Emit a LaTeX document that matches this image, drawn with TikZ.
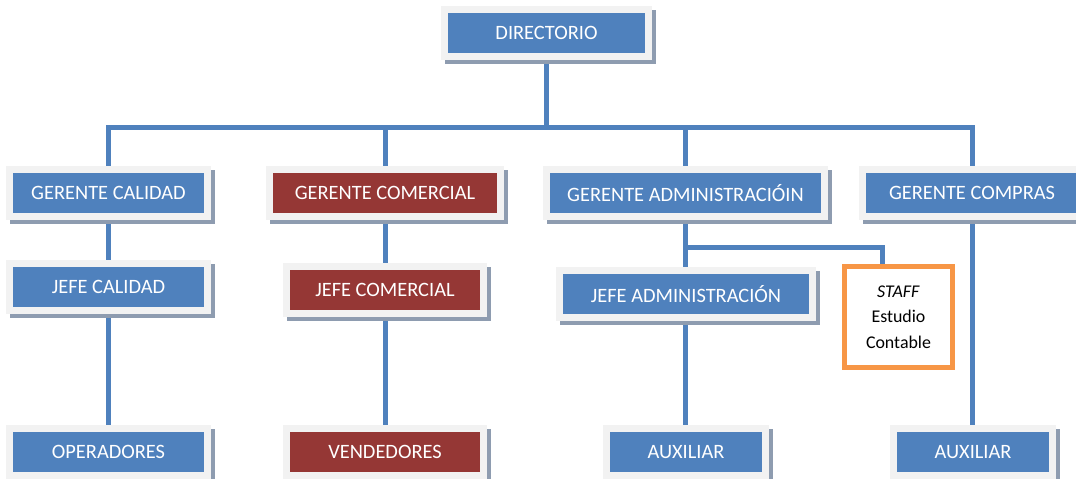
\documentclass[tikz,border=0pt]{standalone}
\usepackage{fontspec}
\setmainfont{Carlito}
\usetikzlibrary{backgrounds}

\definecolor{orgblue}{HTML}{4F81BD}
\definecolor{orgred}{HTML}{953735}
\definecolor{framegray}{HTML}{F2F2F2}
\definecolor{shadowgray}{HTML}{8E9CB0}
\definecolor{stafforange}{HTML}{F79646}

\tikzset{
  box/.style={rectangle, draw=framegray, line width=7pt, text=white,
    minimum height=47pt, inner sep=0pt,
    font=\fontsize{20.4}{24}\selectfont,
    preaction={draw=shadowgray, fill=shadowgray,
      transform canvas={shift={(3.5pt,-4pt)}}}},
  bluebox/.style={box, fill=orgblue},
  redbox/.style={box, fill=orgred},
  staffbox/.style={rectangle, draw=stafforange, line width=5pt, fill=white,
    minimum width=108pt, minimum height=101pt, inner sep=0pt, align=center,
    font=\fontsize{17.9}{25.5}\selectfont},
  link/.style={draw=orgblue, line width=5pt},
}

\begin{document}
\begin{tikzpicture}[x=1pt, y=1pt]
  \useasboundingbox (0,0) rectangle (1076,-479);

  % board
  \node[bluebox, minimum width=204pt] (dir) at (546.5,-33) {DIRECTORIO};

  % managers
  \node[bluebox, minimum width=198pt] (gcal)  at (108.5,-193) {GERENTE CALIDAD};
  \node[redbox,  minimum width=231pt] (gcom)  at (385,-193)   {GERENTE COMERCIAL};
  \node[bluebox, minimum width=278pt] (gadm)  at (685.5,-193) {GERENTE ADMINISTRACIÓIN};
  \node[bluebox, minimum width=219pt] (gcomp) at (972,-193)   {GERENTE COMPRAS};

  % heads
  \node[bluebox, minimum width=198pt] (jcal) at (108.5,-287) {JEFE CALIDAD};
  \node[redbox,  minimum width=197pt] (jcom) at (385,-290)   {JEFE COMERCIAL};
  \node[bluebox, minimum width=253pt] (jadm) at (686,-294)   {JEFE ADMINISTRACIÓN};

  % staff
  \node[staffbox] (staff) at (898.5,-317) {\textit{STAFF}\\Estudio\\Contable};

  % staff level
  \node[bluebox, minimum width=198pt] (oper) at (108.5,-452) {OPERADORES};
  \node[redbox,  minimum width=197pt] (vend) at (385,-452)   {VENDEDORES};
  \node[bluebox, minimum width=159pt] (aux1) at (686,-452)   {AUXILIAR};
  \node[bluebox, minimum width=159pt] (aux2) at (973,-452)   {AUXILIAR};

  \coordinate (bus) at (0,-127);
  \coordinate (tap) at (882,-247);

  \begin{scope}[on background layer]
    \draw[link] (dir) -- (dir |- bus);
    \draw[link] (gcal) |- (gcomp |- bus) -- (gcomp);
    \draw[link] (gcom |- bus) -- (gcom);
    \draw[link] (gadm |- bus) -- (gadm);
    \draw[link] (gcal) -- (jcal) -- (oper);
    \draw[link] (gcom) -- (jcom) -- (vend);
    \draw[link] (gadm) -- (gadm |- aux1);
    \draw[link] (gadm |- tap) -- (tap) -- (tap |- staff);
    \draw[link] (gcomp) -- (gcomp |- aux2);
  \end{scope}
\end{tikzpicture}
\end{document}
